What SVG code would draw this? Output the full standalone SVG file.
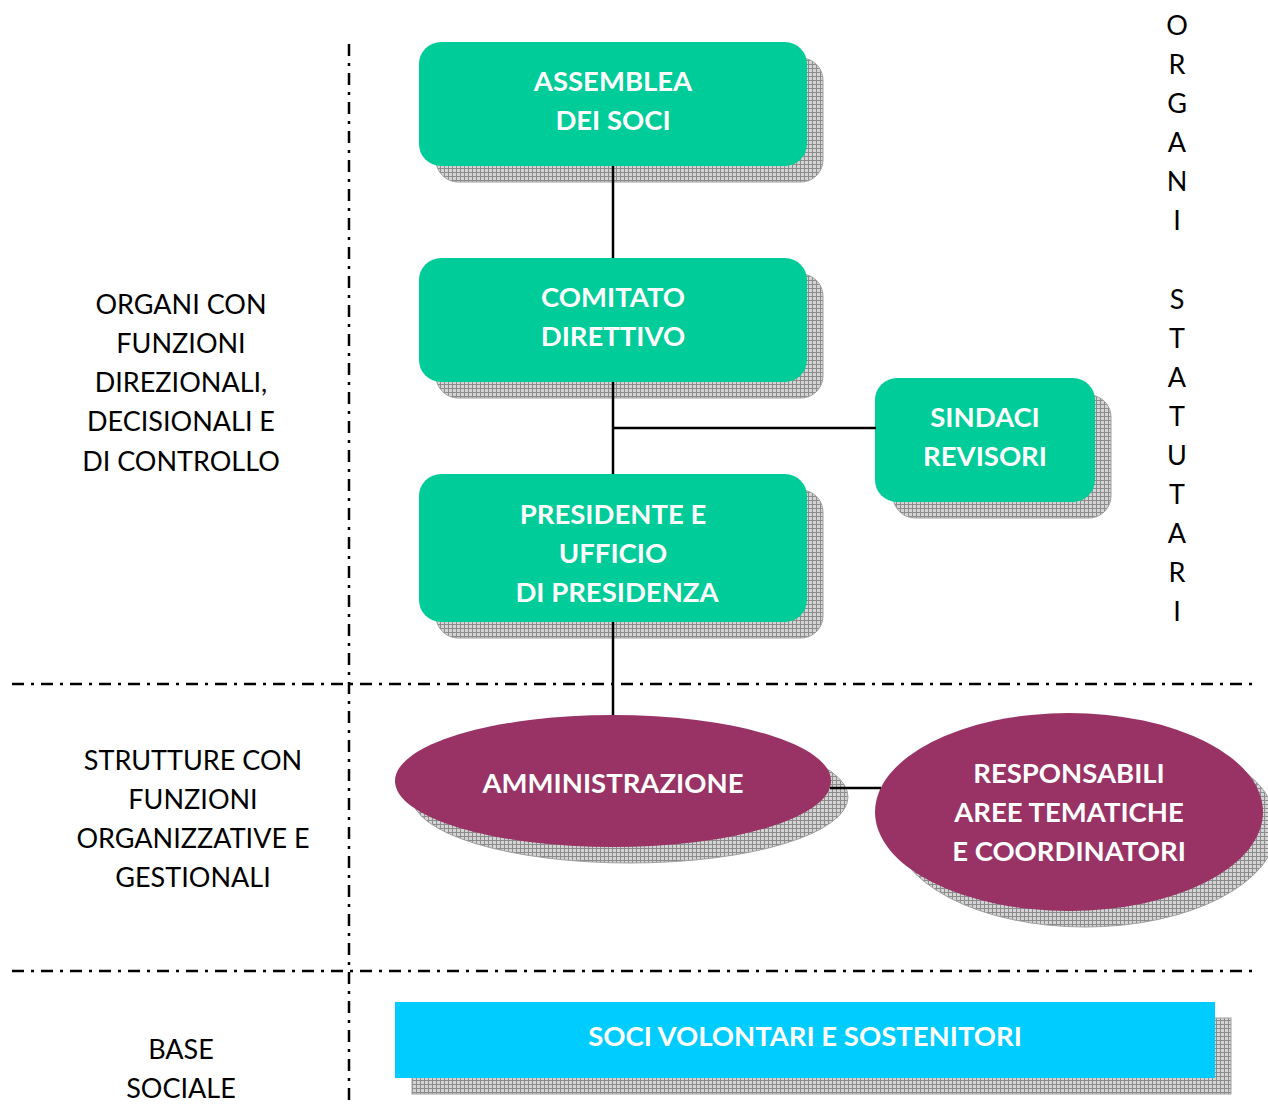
<svg xmlns="http://www.w3.org/2000/svg" width="1268" height="1104" viewBox="0 0 1268 1104">
<defs>
<pattern id="grid" width="4" height="4" patternUnits="userSpaceOnUse">
<rect width="4" height="4" fill="#d4d4d4"/>
<path d="M0 0.5H4M0.5 0V4" stroke="#8c8c8c" stroke-width="1" fill="none"/>
</pattern>
<style>
.shadow{fill:url(#grid);stroke:#a0a0a0;stroke-width:1}
.green{fill:#00CC99}
.purple{fill:#993366}
.cyan{fill:#00CCFF}
.nt{font-family:Lato,"Open Sans",sans-serif;font-weight:bold;font-size:27.5px;fill:#ffffff;text-anchor:middle}
.lt{font-family:Lato,"Open Sans",sans-serif;font-size:27px;fill:#000000;text-anchor:middle}
.conn{stroke:#000;stroke-width:2.5;fill:none}
.sep{stroke:#000;stroke-width:2.5;fill:none;stroke-dasharray:12 7 3 7}
</style>
</defs>

<g id="separators">
<line class="sep" x1="349" y1="44" x2="349" y2="1104"/>
<line class="sep" x1="12" y1="684" x2="1258" y2="684"/>
<line class="sep" x1="12" y1="971" x2="1258" y2="971"/>
</g>

<g id="labels">
<text class="lt" x="181" y="314">ORGANI CON</text>
<text class="lt" x="181" y="353">FUNZIONI</text>
<text class="lt" x="181" y="392">DIREZIONALI,</text>
<text class="lt" x="181" y="431">DECISIONALI E</text>
<text class="lt" x="181" y="471">DI CONTROLLO</text>
<text class="lt" x="193" y="770">STRUTTURE CON</text>
<text class="lt" x="193" y="809">FUNZIONI</text>
<text class="lt" x="193" y="848">ORGANIZZATIVE E</text>
<text class="lt" x="193" y="887">GESTIONALI</text>
<text class="lt" x="181" y="1059">BASE</text>
<text class="lt" x="181" y="1098">SOCIALE</text>
<text class="lt" x="1177" y="35">O</text>
<text class="lt" x="1177" y="74">R</text>
<text class="lt" x="1177" y="113">G</text>
<text class="lt" x="1177" y="152">A</text>
<text class="lt" x="1177" y="191">N</text>
<text class="lt" x="1177" y="230">I</text>
<text class="lt" x="1177" y="309">S</text>
<text class="lt" x="1177" y="348">T</text>
<text class="lt" x="1177" y="387">A</text>
<text class="lt" x="1177" y="426">T</text>
<text class="lt" x="1177" y="465">U</text>
<text class="lt" x="1177" y="504">T</text>
<text class="lt" x="1177" y="543">A</text>
<text class="lt" x="1177" y="582">R</text>
<text class="lt" x="1177" y="621">I</text>
</g>

<g id="assemblea">
<rect class="shadow" x="436" y="58" width="387" height="124" rx="22"/>
<rect class="green" x="419" y="42" width="388" height="124" rx="22"/>
<text class="nt" x="613" y="91">ASSEMBLEA</text>
<text class="nt" x="613" y="130">DEI SOCI</text>
</g>

<g id="comitato">
<rect class="shadow" x="436" y="274" width="387" height="124" rx="22"/>
<rect class="green" x="419" y="258" width="388" height="124" rx="22"/>
<text class="nt" x="613" y="307">COMITATO</text>
<text class="nt" x="613" y="346">DIRETTIVO</text>
</g>

<g id="sindaci">
<rect class="shadow" x="893" y="395" width="218" height="123" rx="22"/>
<rect class="green" x="875" y="378" width="220" height="124" rx="22"/>
<text class="nt" x="985" y="427">SINDACI</text>
<text class="nt" x="985" y="466">REVISORI</text>
</g>

<g id="presidente">
<rect class="shadow" x="436" y="490" width="387" height="148" rx="22"/>
<rect class="green" x="419" y="474" width="388" height="148" rx="22"/>
<text class="nt" x="613" y="524">PRESIDENTE E</text>
<text class="nt" x="613" y="563">UFFICIO</text>
<text class="nt" x="617" y="602">DI PRESIDENZA</text>
</g>

<g id="amministrazione">
<ellipse class="shadow" cx="630" cy="797" rx="218" ry="66"/>
<ellipse class="purple" cx="613" cy="781" rx="218" ry="66"/>
<text class="nt" x="613" y="793">AMMINISTRAZIONE</text>
</g>

<g id="responsabili">
<ellipse class="shadow" cx="1085" cy="827" rx="192" ry="100"/>
<ellipse class="purple" cx="1069" cy="812" rx="194" ry="99"/>
<text class="nt" x="1069" y="783">RESPONSABILI</text>
<text class="nt" x="1069" y="822">AREE TEMATICHE</text>
<text class="nt" x="1069" y="861">E COORDINATORI</text>
</g>

<g id="soci">
<rect class="shadow" x="412" y="1018" width="819" height="76"/>
<rect class="cyan" x="395" y="1002" width="820" height="76"/>
<text class="nt" x="805" y="1046">SOCI VOLONTARI E SOSTENITORI</text>
</g>

<g id="connectors">
<line class="conn" x1="613" y1="166" x2="613" y2="258"/>
<line class="conn" x1="613" y1="382" x2="613" y2="474"/>
<line class="conn" x1="613" y1="428" x2="876" y2="428"/>
<line class="conn" x1="613" y1="622" x2="613" y2="715"/>
<line class="conn" x1="830" y1="788" x2="881" y2="788"/>
</g>
</svg>
